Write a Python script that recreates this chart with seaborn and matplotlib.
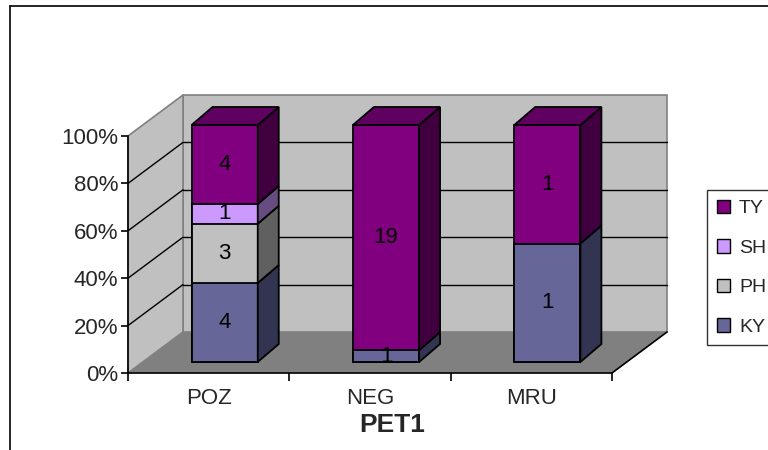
import matplotlib

matplotlib.use("Agg")

import matplotlib.pyplot as plt
import matplotlib.transforms as mtransforms
import numpy as np
import pandas as pd
import seaborn as sns
from matplotlib.lines import Line2D
from matplotlib.patches import Patch, Polygon, Rectangle

CATEGORIES = ["POZ", "NEG", "MRU"]
SERIES = ["KY", "PH", "SH", "TY"]  # bottom -> top of the stack
KY = [4, 1, 1]
PH = [3, 0, 0]
SH = [1, 0, 0]
TY = [4, 19, 1]
Y_TICKS = [0, 20, 40, 60, 80, 100]
Y_TICK_LABELS = ["0%", "20%", "40%", "60%", "80%", "100%"]
X_TITLE = "PET1"

FRONT = {"KY": "#666699", "PH": "#C0C0C0", "SH": "#CC99FF", "TY": "#800080"}
SIDE = {"KY": "#333352", "PH": "#606060", "SH": "#664C80", "TY": "#400040"}
TOP = {"KY": "#4D4D73", "PH": "#909090", "SH": "#9973BF", "TY": "#600060"}

# pseudo-3d depth vectors, display pixels (x right, y up)
WALL = np.array([55.0, 41.0])
BAR_FRONT = np.array([16.0, 11.0])
BAR_BACK = np.array([37.0, 29.0])
BAR_WIDTH = 0.41

sns.set_theme(style="white")
plt.rcParams["font.family"] = ["Liberation Sans", "DejaVu Sans"]

counts = pd.DataFrame({"KY": KY, "PH": PH, "SH": SH, "TY": TY}, index=CATEGORIES)
pct = counts.div(counts.sum(axis=1), axis=0) * 100
top = pct.cumsum(axis=1)
bottom = top - pct

rows = []
for i, cat in enumerate(CATEGORIES):
    for s in SERIES:
        rows.append({"category": cat, "idx": i, "series": s, "count": counts.loc[cat, s],
                     "bottom": bottom.loc[cat, s], "top": top.loc[cat, s]})
df = pd.DataFrame(rows)
df = df[df["count"] > 0]

fig = plt.figure(figsize=(7.68, 4.5), dpi=100)
ax = fig.add_axes([128 / 768, 77 / 450, 484 / 768, 237 / 450])
ax.patch.set_visible(False)


def shifted(vec):
    return ax.transData + mtransforms.Affine2D().translate(vec[0], vec[1])


# front faces, drawn top series first so lower segments sit over them
for s in reversed(SERIES):
    sub = df[df["series"] == s]
    if sub.empty:
        continue
    sns.barplot(data=sub, x="category", y="top", order=CATEGORIES, color=FRONT[s],
                saturation=1, width=BAR_WIDTH, edgecolor="black", linewidth=1.3, ax=ax)

ax.set_xlim(-0.5, len(CATEGORIES) - 0.5)
ax.set_ylim(0, 100)

for p in ax.patches:
    p.set_transform(shifted(BAR_FRONT))
    p.set_clip_on(False)
    p.set_zorder(3)


def disp(x, y, vec=(0, 0)):
    return ax.transData.transform((x, y)) + np.asarray(vec)


ident = mtransforms.IdentityTransform()
x0, x1 = -0.5, len(CATEGORIES) - 0.5

# walls and floor
ax.add_patch(Rectangle((x0, 0), x1 - x0, 100, transform=shifted(WALL), facecolor="#C0C0C0",
                       edgecolor="#808080", linewidth=1.2, zorder=0.5, clip_on=False))
ax.add_patch(Polygon([disp(x0, 0), disp(x0, 100), disp(x0, 100, WALL), disp(x0, 0, WALL)],
                     closed=True, transform=ident, facecolor="#C0C0C0", edgecolor="#808080",
                     linewidth=1.2, zorder=0.6, clip_on=False))
ax.add_patch(Polygon([disp(x0, 0), disp(x1, 0), disp(x1, 0, WALL), disp(x0, 0, WALL)],
                     closed=True, transform=ident, facecolor="#808080", edgecolor="none",
                     zorder=0.7, clip_on=False))
floor_edge = np.array([disp(x1, 0), disp(x1, 0, WALL)])
ax.add_line(Line2D(floor_edge[:, 0], floor_edge[:, 1], transform=ident, color="black",
                   linewidth=1.2, zorder=0.8, clip_on=False))

for y in Y_TICKS[1:-1]:
    ax.plot([x0, x1], [y, y], transform=shifted(WALL), color="black", linewidth=1,
            zorder=0.9, clip_on=False)
    seg = np.array([disp(x0, y), disp(x0, y, WALL)])
    ax.add_line(Line2D(seg[:, 0], seg[:, 1], transform=ident, color="black",
                       linewidth=1, zorder=0.9, clip_on=False))

# sides, tops and labels of the bars
for _, r in df.iterrows():
    right = r["idx"] + BAR_WIDTH / 2
    left = r["idx"] - BAR_WIDTH / 2
    side = [disp(right, r["bottom"], BAR_FRONT), disp(right, r["top"], BAR_FRONT),
            disp(right, r["top"], BAR_BACK), disp(right, r["bottom"], BAR_BACK)]
    ax.add_patch(Polygon(side, closed=True, transform=ident, facecolor=SIDE[r["series"]],
                         edgecolor="black", linewidth=1.3, zorder=3, clip_on=False))
    if r["top"] >= 99.99:
        lid = [disp(left, 100, BAR_FRONT), disp(right, 100, BAR_FRONT),
               disp(right, 100, BAR_BACK), disp(left, 100, BAR_BACK)]
        ax.add_patch(Polygon(lid, closed=True, transform=ident, facecolor=TOP[r["series"]],
                             edgecolor="black", linewidth=1.3, zorder=3, clip_on=False))
    ax.text(r["idx"], (r["bottom"] + r["top"]) / 2, str(r["count"]), transform=shifted(BAR_FRONT),
            ha="center", va="center", fontsize=16, color="black", zorder=4, clip_on=False)

# axes
for name in ("top", "right"):
    ax.spines[name].set_visible(False)
for name in ("left", "bottom"):
    ax.spines[name].set_color("black")
    ax.spines[name].set_linewidth(1.2)
    ax.spines[name].set_zorder(2)

ax.set_yticks(Y_TICKS)
ax.set_yticklabels(Y_TICK_LABELS, fontsize=16)
ax.set_xticks(range(len(CATEGORIES)))
ax.set_xticklabels(CATEGORIES, fontsize=16)
ax.set_xticks(np.arange(-0.5, len(CATEGORIES)), minor=True)
ax.tick_params(axis="y", direction="out", length=5, width=1.2, color="black", pad=2, left=True)
ax.tick_params(axis="x", which="major", length=0, pad=11)
ax.tick_params(axis="x", which="minor", direction="out", length=6, width=1.2, color="black",
               bottom=True)
ax.set_ylabel("")
ax.set_xlabel(X_TITLE, fontsize=19, fontweight="bold", va="center")
ax.xaxis.set_label_coords((392 - 128) / 484, (373 - 425) / 237)

handles = [Patch(facecolor=FRONT[s], edgecolor="black", linewidth=1) for s in reversed(SERIES)]
leg = fig.legend(handles, list(reversed(SERIES)), loc="upper left",
                 bbox_to_anchor=(707 / 768, 1 - 190 / 450), frameon=True, fancybox=False,
                 fontsize=14, handlelength=0.7, handleheight=0.7, handletextpad=0.45,
                 labelspacing=1.12, borderpad=0.5, borderaxespad=0)
leg.get_frame().set_edgecolor("black")
leg.get_frame().set_linewidth(1)

# chart area border (only top and left visible in the crop)
fig.add_artist(Line2D([10 / 768, 1], [1 - 6 / 450, 1 - 6 / 450], transform=fig.transFigure,
                      color="black", linewidth=1.2))
fig.add_artist(Line2D([10 / 768, 10 / 768], [0, 1 - 6 / 450], transform=fig.transFigure,
                      color="black", linewidth=1.2))

fig.savefig("out.png", dpi=100)
